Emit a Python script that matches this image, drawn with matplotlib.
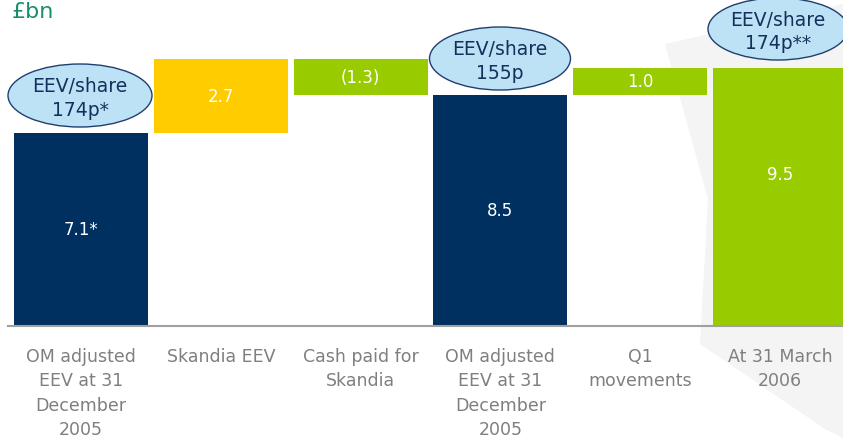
import matplotlib
matplotlib.use("Agg")
import matplotlib.pyplot as plt
from matplotlib.patches import Ellipse, Polygon

categories = ["OM adjusted\nEEV at 31\nDecember\n2005", "Skandia EEV", "Cash paid for\nSkandia",
              "OM adjusted\nEEV at 31\nDecember\n2005", "Q1\nmovements", "At 31 March\n2006"]
values = [7.1, 2.7, -1.3, 8.5, 1.0, 9.5]
is_total = [True, False, False, True, False, True]
value_labels = ["7.1*", "2.7", "(1.3)", "8.5", "1.0", "9.5"]
bubble_labels = {0: "EEV/share\n174p*", 3: "EEV/share\n155p", 5: "EEV/share\n174p**"}

navy = "#00305F"
yellow = "#FFCC00"
green = "#99CC00"
colors = [navy, yellow, green, navy, green, green]

W, H = 843, 439
fig = plt.figure(figsize=(W / 100, H / 100), dpi=100)
fig.patch.set_facecolor("white")

# faint background decoration
bg = fig.add_axes([0, 0, 1, 1])
bg.set_xlim(0, W); bg.set_ylim(H, 0); bg.axis("off")
bg.add_patch(Polygon([(665, 45), (843, 5), (843, 439), (825, 430), (700, 345), (708, 200)],
                     closed=True, facecolor="#F4F4F4", edgecolor="none"))

pitch = 139.8
c0 = 81
base_px = 327
unit_px = 27.2
ax = fig.add_axes([0, (H - base_px) / H, 1, base_px / H])
ax.set_xlim(-c0 / pitch, (W - c0) / pitch)
ax.set_ylim(0, base_px / unit_px)
ax.axis("off")
ax.patch.set_alpha(0)

running = 0.0
for i, v in enumerate(values):
    if is_total[i]:
        b, t = 0.0, v
        running = v
    else:
        if v >= 0:
            b, t = running, running + v
        else:
            b, t = running + v, running
        running += v
    ax.bar(i, t - b, bottom=b, width=0.958, color=colors[i], zorder=2)
    ly = (b + t) / 2 if i != 5 else 5.6
    ax.text(i, ly, value_labels[i], ha="center", va="center", color="white",
            fontsize=12, zorder=3)

ax.plot([-0.52, (W - c0) / pitch], [0, 0], color="#A0A0A0", lw=1.5, zorder=3, clip_on=False)

# bubbles
ov = fig.add_axes([0, 0, 1, 1]); ov.set_xlim(0, W); ov.set_ylim(H, 0); ov.axis("off")
ov.patch.set_alpha(0)
bub_pos = {0: (80, 96.5, 144, 63), 3: (500, 59.5, 141, 63), 5: (778, 30, 140, 62)}
for i, txt in bubble_labels.items():
    cx, cy, w, h = bub_pos[i]
    ov.add_patch(Ellipse((cx, cy), w, h, facecolor="#BDE1F5", edgecolor="#1F3F6F", lw=1))
    ov.text(cx, cy + 2, txt, ha="center", va="center", color="#14305C", fontsize=13.5,
            linespacing=1.3)

# category labels
for i, lab in enumerate(categories):
    fig.text((c0 + i * pitch) / W, 1 - 348 / H, lab, ha="center", va="top", color="#7F7F7F",
             fontsize=12.5, linespacing=1.45)

fig.text(12 / W, 1 - 2 / H, "£bn", ha="left", va="top", color="#1A8C6E", fontsize=16)

fig.savefig("out.png", dpi=100, facecolor="white")
